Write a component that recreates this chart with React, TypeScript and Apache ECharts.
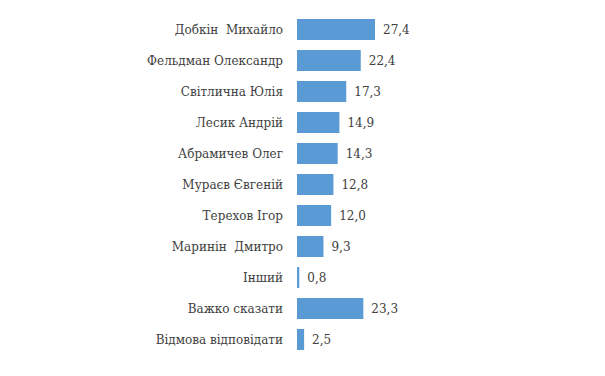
import React, { useEffect, useRef } from "react";
import * as echarts from "echarts";

const categories = [
  "Добкін  Михайло",
  "Фельдман Олександр",
  "Світлична Юлія",
  "Лесик Андрій",
  "Абрамичев Олег",
  "Мураєв Євгеній",
  "Терехов Ігор",
  "Маринін  Дмитро",
  "Інший",
  "Важко сказати",
  "Відмова відповідати",
];
const values = [27.4, 22.4, 17.3, 14.9, 14.3, 12.8, 12.0, 9.3, 0.8, 23.3, 2.5];

const FONT = "'DejaVu Serif', serif";

export default function App() {
  const ref = useRef<HTMLDivElement>(null);
  useEffect(() => {
    const chart = echarts.init(ref.current!, null, { renderer: "svg" });
    chart.setOption({
      animation: false,
      textStyle: { fontFamily: FONT },
      grid: { left: 297, top: 14, width: 85.4, height: 341, containLabel: false },
      xAxis: {
        type: "value",
        min: 0,
        max: 30,
        show: false,
      },
      yAxis: {
        type: "category",
        inverse: true,
        data: categories,
        axisLine: { show: false },
        axisTick: { show: false },
        axisLabel: {
          margin: 14,
          color: "#404040",
          fontFamily: FONT,
          fontSize: 12,
        },
      },
      series: [
        {
          type: "bar",
          data: values,
          barWidth: 21,
          itemStyle: { color: "#5B9BD5" },
          label: {
            show: true,
            position: "right",
            distance: 8,
            color: "#404040",
            fontFamily: FONT,
            fontSize: 12,
            formatter: (p: any) => p.value.toFixed(1).replace(".", ","),
          },
        },
      ],
    });
    return () => chart.dispose();
  }, []);
  return <div ref={ref} style={{ width: 605, height: 376, margin: -8 }} />;
}
